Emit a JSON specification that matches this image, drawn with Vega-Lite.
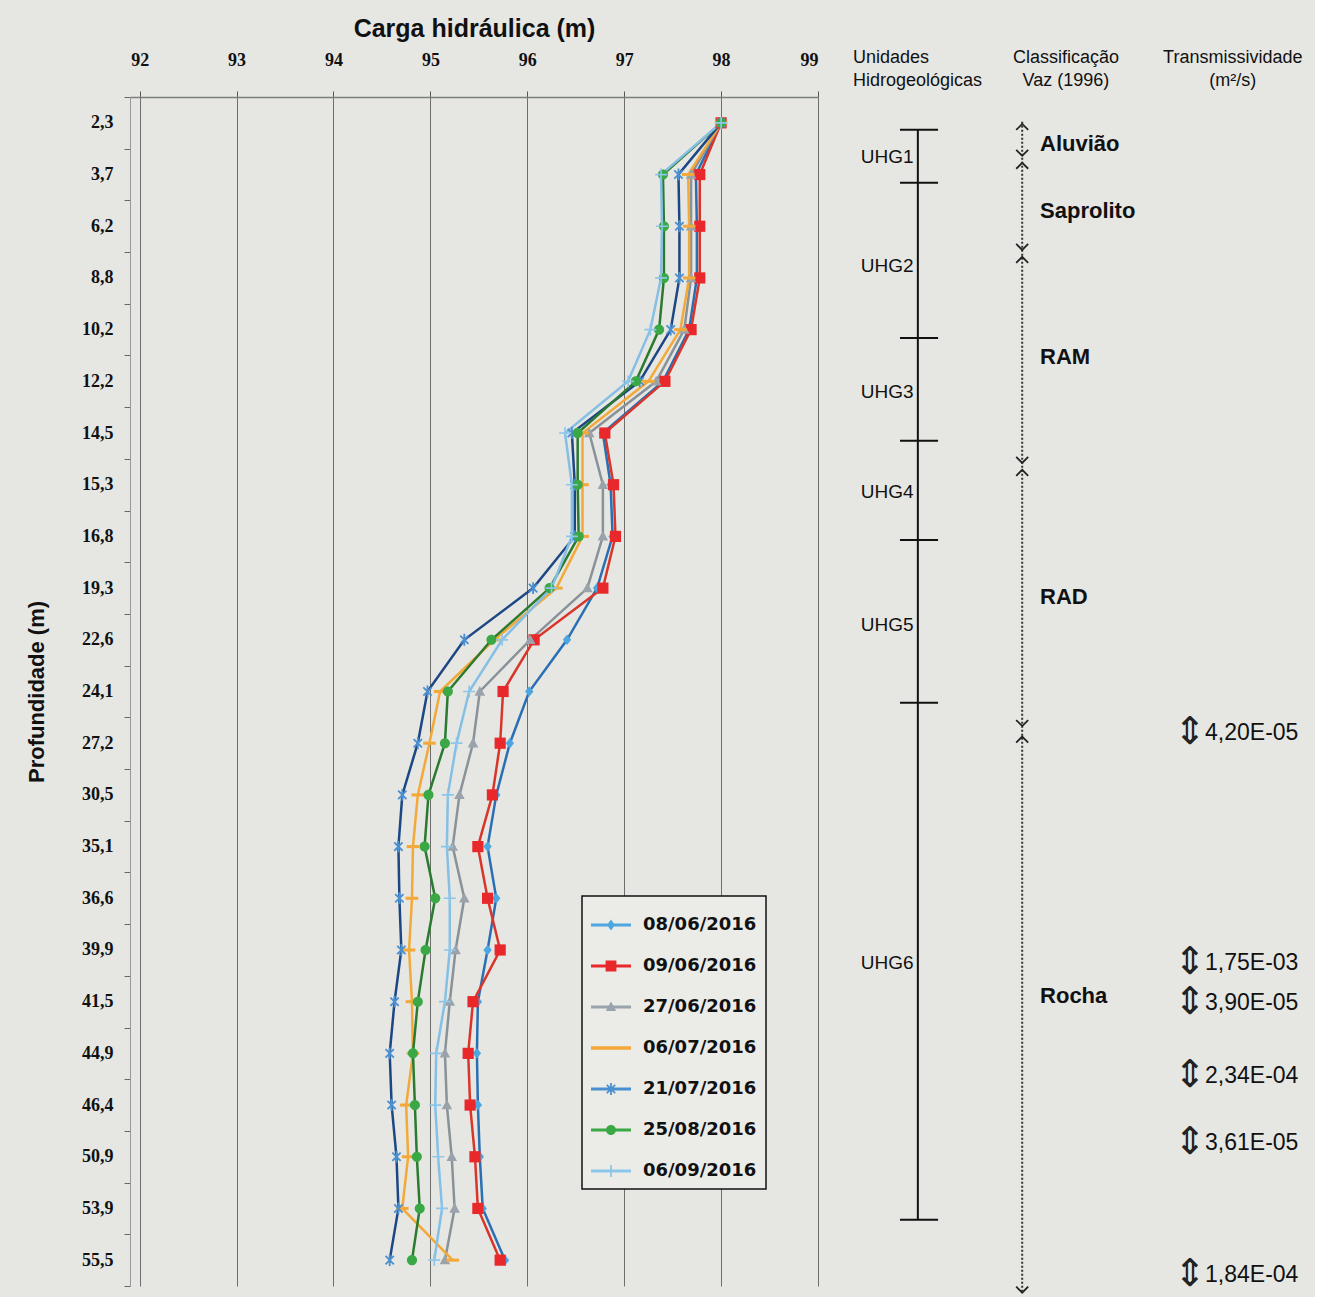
{
  "$schema": "https://vega.github.io/schema/vega-lite/v6.json",
  "background": "#e6e7e3",
  "padding": {"left": 25, "top": 16, "right": 0, "bottom": 0},
  "bounds": "flush",
  "spacing": 27,
  "config": {"view": {"stroke": null}, "font": "Liberation Sans"},
  "datasets": {
    "cargas": [
      {"prof": "2,3", "dep": 2.3, "08/06/2016": 98.0, "09/06/2016": 98.0, "27/06/2016": 98.0, "06/07/2016": 98.0, "21/07/2016": 98.0, "25/08/2016": 98.0, "06/09/2016": 98.0},
      {"prof": "3,7", "dep": 3.7, "08/06/2016": 97.74, "09/06/2016": 97.78, "27/06/2016": 97.69, "06/07/2016": 97.66, "21/07/2016": 97.56, "25/08/2016": 97.40, "06/09/2016": 97.38},
      {"prof": "6,2", "dep": 6.2, "08/06/2016": 97.75, "09/06/2016": 97.78, "27/06/2016": 97.69, "06/07/2016": 97.67, "21/07/2016": 97.57, "25/08/2016": 97.41, "06/09/2016": 97.39},
      {"prof": "8,8", "dep": 8.8, "08/06/2016": 97.75, "09/06/2016": 97.78, "27/06/2016": 97.69, "06/07/2016": 97.67, "21/07/2016": 97.57, "25/08/2016": 97.41, "06/09/2016": 97.38},
      {"prof": "10,2", "dep": 10.2, "08/06/2016": 97.67, "09/06/2016": 97.69, "27/06/2016": 97.62, "06/07/2016": 97.58, "21/07/2016": 97.48, "25/08/2016": 97.36, "06/09/2016": 97.27},
      {"prof": "12,2", "dep": 12.2, "08/06/2016": 97.40, "09/06/2016": 97.42, "27/06/2016": 97.33, "06/07/2016": 97.25, "21/07/2016": 97.16, "25/08/2016": 97.12, "06/09/2016": 97.04},
      {"prof": "14,5", "dep": 14.5, "08/06/2016": 96.78, "09/06/2016": 96.80, "27/06/2016": 96.64, "06/07/2016": 96.57, "21/07/2016": 96.46, "25/08/2016": 96.52, "06/09/2016": 96.39},
      {"prof": "15,3", "dep": 15.3, "08/06/2016": 96.86, "09/06/2016": 96.89, "27/06/2016": 96.78, "06/07/2016": 96.57, "21/07/2016": 96.49, "25/08/2016": 96.52, "06/09/2016": 96.46},
      {"prof": "16,8", "dep": 16.8, "08/06/2016": 96.88, "09/06/2016": 96.91, "27/06/2016": 96.78, "06/07/2016": 96.57, "21/07/2016": 96.49, "25/08/2016": 96.53, "06/09/2016": 96.46},
      {"prof": "19,3", "dep": 19.3, "08/06/2016": 96.72, "09/06/2016": 96.78, "27/06/2016": 96.62, "06/07/2016": 96.30, "21/07/2016": 96.06, "25/08/2016": 96.23, "06/09/2016": 96.25},
      {"prof": "22,6", "dep": 22.6, "08/06/2016": 96.41, "09/06/2016": 96.07, "27/06/2016": 96.03, "06/07/2016": 95.66, "21/07/2016": 95.35, "25/08/2016": 95.63, "06/09/2016": 95.74},
      {"prof": "24,1", "dep": 24.1, "08/06/2016": 96.02, "09/06/2016": 95.75, "27/06/2016": 95.51, "06/07/2016": 95.10, "21/07/2016": 94.97, "25/08/2016": 95.18, "06/09/2016": 95.40},
      {"prof": "27,2", "dep": 27.2, "08/06/2016": 95.82, "09/06/2016": 95.72, "27/06/2016": 95.44, "06/07/2016": 94.99, "21/07/2016": 94.87, "25/08/2016": 95.15, "06/09/2016": 95.27},
      {"prof": "30,5", "dep": 30.5, "08/06/2016": 95.68, "09/06/2016": 95.64, "27/06/2016": 95.30, "06/07/2016": 94.87, "21/07/2016": 94.71, "25/08/2016": 94.98, "06/09/2016": 95.18},
      {"prof": "35,1", "dep": 35.1, "08/06/2016": 95.59, "09/06/2016": 95.49, "27/06/2016": 95.23, "06/07/2016": 94.82, "21/07/2016": 94.67, "25/08/2016": 94.94, "06/09/2016": 95.17},
      {"prof": "36,6", "dep": 36.6, "08/06/2016": 95.68, "09/06/2016": 95.59, "27/06/2016": 95.35, "06/07/2016": 94.81, "21/07/2016": 94.68, "25/08/2016": 95.05, "06/09/2016": 95.20},
      {"prof": "39,9", "dep": 39.9, "08/06/2016": 95.59, "09/06/2016": 95.72, "27/06/2016": 95.26, "06/07/2016": 94.78, "21/07/2016": 94.70, "25/08/2016": 94.95, "06/09/2016": 95.20},
      {"prof": "41,5", "dep": 41.5, "08/06/2016": 95.49, "09/06/2016": 95.44, "27/06/2016": 95.20, "06/07/2016": 94.81, "21/07/2016": 94.63, "25/08/2016": 94.87, "06/09/2016": 95.15},
      {"prof": "44,9", "dep": 44.9, "08/06/2016": 95.48, "09/06/2016": 95.39, "27/06/2016": 95.15, "06/07/2016": 94.82, "21/07/2016": 94.58, "25/08/2016": 94.82, "06/09/2016": 95.06},
      {"prof": "46,4", "dep": 46.4, "08/06/2016": 95.49, "09/06/2016": 95.41, "27/06/2016": 95.17, "06/07/2016": 94.75, "21/07/2016": 94.60, "25/08/2016": 94.84, "06/09/2016": 95.05},
      {"prof": "50,9", "dep": 50.9, "08/06/2016": 95.51, "09/06/2016": 95.46, "27/06/2016": 95.22, "06/07/2016": 94.77, "21/07/2016": 94.65, "25/08/2016": 94.86, "06/09/2016": 95.08},
      {"prof": "53,9", "dep": 53.9, "08/06/2016": 95.54, "09/06/2016": 95.49, "27/06/2016": 95.25, "06/07/2016": 94.71, "21/07/2016": 94.67, "25/08/2016": 94.89, "06/09/2016": 95.12},
      {"prof": "55,5", "dep": 55.5, "08/06/2016": 95.77, "09/06/2016": 95.72, "27/06/2016": 95.15, "06/07/2016": 95.23, "21/07/2016": 94.58, "25/08/2016": 94.81, "06/09/2016": 95.04}
    ],
    "uhgLimites": [{"y": 0.135}, {"y": 1.16}, {"y": 4.16}, {"y": 6.15}, {"y": 8.07}, {"y": 11.22}, {"y": 21.22}],
    "uhgEixo": [{"a": 0.135, "b": 21.22}],
    "uhgRotulos": [
      {"t": "UHG1", "y": 0.66}, {"t": "UHG2", "y": 2.77}, {"t": "UHG3", "y": 5.2},
      {"t": "UHG4", "y": 7.14}, {"t": "UHG5", "y": 9.71}, {"t": "UHG6", "y": 16.25}
    ],
    "vazEixo": [{"a": -0.02, "b": 22.6}],
    "vazSetas": [
      {"y": 0.08, "dir": "cima"}, {"y": 0.58, "dir": "baixo"}, {"y": 0.83, "dir": "cima"},
      {"y": 2.4, "dir": "baixo"}, {"y": 2.65, "dir": "cima"}, {"y": 6.52, "dir": "baixo"},
      {"y": 6.77, "dir": "cima"}, {"y": 11.61, "dir": "baixo"}, {"y": 11.93, "dir": "cima"},
      {"y": 22.57, "dir": "baixo"}
    ],
    "vazRotulos": [
      {"t": "Aluvião", "y": 0.41}, {"t": "Saprolito", "y": 1.7}, {"t": "RAM", "y": 4.53},
      {"t": "RAD", "y": 9.17}, {"t": "Rocha", "y": 16.89}
    ],
    "transm": [
      {"t": "4,20E-05", "y": 11.8}, {"t": "1,75E-03", "y": 16.25}, {"t": "3,90E-05", "y": 17.02},
      {"t": "2,34E-04", "y": 18.43}, {"t": "3,61E-05", "y": 19.73}, {"t": "1,84E-04", "y": 22.28}
    ],
    "cab1": [{"t": "Unidades", "y": -1.26}, {"t": "Hidrogeológicas", "y": -0.81}],
    "cab2": [{"t": "Classificação", "y": -1.26}, {"t": "Vaz (1996)", "y": -0.81}],
    "cab3": [{"t": "Transmissividade", "y": -1.26}, {"t": "(m²/s)", "y": -0.81}]
  },
  "hconcat": [
    {
      "width": 688,
      "height": 1189,
      "data": {"name": "cargas"},
      "transform": [
        {"fold": ["08/06/2016", "09/06/2016", "27/06/2016", "06/07/2016", "21/07/2016", "25/08/2016", "06/09/2016"], "as": ["serie", "carga"]}
      ],
      "encoding": {
        "x": {
          "field": "carga", "type": "quantitative",
          "scale": {"domain": [91.9, 99], "nice": false, "zero": false},
          "axis": {
            "orient": "top", "values": [92, 93, 94, 95, 96, 97, 98, 99], "format": "d",
            "title": "Carga hidráulica (m)", "titleFont": "Liberation Sans", "titleFontSize": 25,
            "titleFontWeight": "bold", "titleColor": "#111", "titlePadding": 10,
            "labelFont": "Liberation Serif", "labelFontWeight": "bold", "labelFontSize": 18,
            "labelColor": "#111", "labelPadding": 22,
            "tickSize": 6, "tickColor": "#555", "domainColor": "#7a7f7a", "domainWidth": 1.5,
            "grid": true, "gridColor": "#6e6e6e", "gridWidth": 1
          }
        },
        "y": {
          "field": "prof", "type": "ordinal",
          "sort": ["2,3", "3,7", "6,2", "8,8", "10,2", "12,2", "14,5", "15,3", "16,8", "19,3", "22,6", "24,1", "27,2", "30,5", "35,1", "36,6", "39,9", "41,5", "44,9", "46,4", "50,9", "53,9", "55,5"],
          "scale": {"type": "band", "paddingInner": 0, "paddingOuter": 0},
          "axis": {
            "title": "Profundidade (m)", "titleFont": "Liberation Sans", "titleFontSize": 22,
            "titleFontWeight": "bold", "titleColor": "#111", "titlePadding": 33,
            "labelFont": "Liberation Serif", "labelFontWeight": "bold", "labelFontSize": 18,
            "labelColor": "#111", "labelPadding": 11,
            "tickBand": "extent", "tickSize": 6, "tickColor": "#666", "domainColor": "#999", "grid": false
          }
        },
        "order": {"field": "dep", "type": "quantitative"}
      },
      "layer": [
        {
          "mark": {"type": "line", "strokeWidth": 2.5},
          "encoding": {
            "color": {
              "field": "serie", "type": "nominal",
              "scale": {
                "domain": ["08/06/2016", "09/06/2016", "27/06/2016", "06/07/2016", "21/07/2016", "25/08/2016", "06/09/2016"],
                "range": ["#2a6fb3", "#d9362b", "#8a9299", "#f3a93a", "#1d4784", "#2b7a30", "#86bfe4"]
              },
              "legend": {
                "title": null, "orient": "none", "legendX": 452, "legendY": 799,
                "padding": 9, "rowPadding": 12, "symbolSize": 1600, "labelOffset": 12,
                "labelFont": "DejaVu Sans", "labelFontSize": 18, "labelFontWeight": "bold", "labelColor": "#111",
                "strokeColor": "#111", "fillColor": "#ebece8",
                "encode": {
                  "legend": {"update": {"strokeWidth": {"value": 1.5}}},
                  "symbols": {
                    "update": {
                      "shape": {"signal": "datum.value==='08/06/2016'?'M-1,-0.07L1,-0.07L1,0.07L-1,0.07ZM0,-0.27L0.2,0L0,0.27L-0.2,0Z':datum.value==='09/06/2016'?'M-1,-0.07L1,-0.07L1,0.07L-1,0.07ZM-0.27,-0.27L0.27,-0.27L0.27,0.27L-0.27,0.27Z':datum.value==='27/06/2016'?'M-1,-0.07L1,-0.07L1,0.07L-1,0.07ZM0,-0.28L0.26,0.2L-0.26,0.2Z':datum.value==='06/07/2016'?'M-1,-0.09L1,-0.09L1,0.09L-1,0.09Z':datum.value==='21/07/2016'?'M-1,-0.07L1,-0.07L1,0.07L-1,0.07ZM-0.045,-0.3L0.045,-0.3L0.045,0.3L-0.045,0.3ZM-0.177,-0.24L0.24,0.177L0.177,0.24L-0.24,-0.177ZM-0.24,0.177L0.177,-0.24L0.24,-0.177L-0.177,0.24Z':datum.value==='25/08/2016'?'M-1,-0.07L1,-0.07L1,0.07L-1,0.07ZM0.25,0A0.25,0.25,0,1,1,-0.25,0A0.25,0.25,0,1,1,0.25,0Z':'M-1,-0.07L1,-0.07L1,0.07L-1,0.07ZM-0.045,-0.3L0.045,-0.3L0.045,0.3L-0.045,0.3ZM-0.3,-0.045L0.3,-0.045L0.3,0.045L-0.3,0.045Z'"},
                      "fill": {"signal": "datum.value==='08/06/2016'?'#2a6fb3':datum.value==='09/06/2016'?'#e0302a':datum.value==='27/06/2016'?'#8a9299':datum.value==='06/07/2016'?'#f3a93a':datum.value==='21/07/2016'?'#1d4784':datum.value==='25/08/2016'?'#2b7a30':'#86bfe4'"},
                      "stroke": {"value": "transparent"},
                      "strokeWidth": {"value": 0},
                      "opacity": {"value": 1},
                      "fillOpacity": {"value": 1}
                    }
                  }
                }
              }
            }
          }
        },
        {
          "mark": {"type": "point", "filled": true, "size": 196, "opacity": 1, "strokeWidth": 0},
          "encoding": {
            "fill": {
              "field": "serie", "type": "nominal",
              "scale": {
                "domain": ["08/06/2016", "09/06/2016", "27/06/2016", "06/07/2016", "21/07/2016", "25/08/2016", "06/09/2016"],
                "range": ["#4da6e0", "#e8282a", "#9aa3ab", "#f3a93a", "#4a8fd0", "#3aa845", "#8cc6ea"]
              },
              "legend": null
            },
            "shape": {
              "field": "serie", "type": "nominal",
              "scale": {
                "domain": ["08/06/2016", "09/06/2016", "27/06/2016", "06/07/2016", "21/07/2016", "25/08/2016", "06/09/2016", "cima", "baixo"],
                "range": [
                  "M0,-0.75L0.6,0L0,0.75L-0.6,0Z",
                  "M-0.8,-0.8L0.8,-0.8L0.8,0.8L-0.8,0.8Z",
                  "M0,-0.8L0.75,0.6L-0.75,0.6Z",
                  "M-0.9,-0.22L0.9,-0.22L0.9,0.22L-0.9,0.22Z",
                  "M-0.13,-0.85L0.13,-0.85L0.13,0.85L-0.13,0.85ZM-0.505,-0.685L0.685,0.505L0.505,0.685L-0.685,-0.505ZM-0.685,0.505L0.505,-0.685L0.685,-0.505L-0.505,0.685Z",
                  "M0.72,0A0.72,0.72,0,1,1,-0.72,0A0.72,0.72,0,1,1,0.72,0Z",
                  "M-0.12,-0.85L0.12,-0.85L0.12,0.85L-0.12,0.85ZM-0.85,-0.12L0.85,-0.12L0.85,0.12L-0.85,0.12Z",
                  "M-1,0.5L0,-0.5L1,0.5",
                  "M-1,-0.5L0,0.5L1,-0.5"
                ]
              },
              "legend": null
            }
          }
        }
      ]
    },
    {
      "width": 470,
      "height": 1189,
      "layer": [
        {
          "data": {"name": "uhgEixo"},
          "mark": {"type": "rule", "color": "#111", "strokeWidth": 2},
          "encoding": {
            "x": {"datum": 15.5, "type": "quantitative", "scale": {"domain": [0, 100]}, "axis": null},
            "y": {"field": "a", "type": "quantitative", "scale": {"domain": [-0.5, 22.5], "reverse": true, "nice": false, "zero": false}, "axis": null},
            "y2": {"field": "b"}
          }
        },
        {
          "data": {"name": "uhgLimites"},
          "mark": {"type": "rule", "color": "#111", "strokeWidth": 2},
          "encoding": {
            "x": {"datum": 11.7, "type": "quantitative", "scale": {"domain": [0, 100]}, "axis": null},
            "x2": {"datum": 19.8},
            "y": {"field": "y", "type": "quantitative", "scale": {"domain": [-0.5, 22.5], "reverse": true, "nice": false, "zero": false}, "axis": null}
          }
        },
        {
          "data": {"name": "uhgRotulos"},
          "mark": {"type": "text", "align": "right", "baseline": "middle", "fontSize": 19, "font": "Liberation Sans", "color": "#111"},
          "encoding": {
            "x": {"datum": 14.6, "type": "quantitative", "scale": {"domain": [0, 100]}, "axis": null},
            "y": {"field": "y", "type": "quantitative", "scale": {"domain": [-0.5, 22.5], "reverse": true, "nice": false, "zero": false}, "axis": null},
            "text": {"field": "t"}
          }
        },
        {
          "data": {"name": "vazEixo"},
          "mark": {"type": "rule", "color": "#333", "strokeWidth": 2, "strokeDash": [2, 2]},
          "encoding": {
            "x": {"datum": 37.7, "type": "quantitative", "scale": {"domain": [0, 100]}, "axis": null},
            "y": {"field": "a", "type": "quantitative", "scale": {"domain": [-0.5, 22.5], "reverse": true, "nice": false, "zero": false}, "axis": null},
            "y2": {"field": "b"}
          }
        },
        {
          "data": {"name": "vazSetas"},
          "mark": {"type": "point", "filled": false, "size": 144, "opacity": 1, "strokeWidth": 1.8, "color": "#222"},
          "encoding": {
            "x": {"datum": 37.7, "type": "quantitative", "scale": {"domain": [0, 100]}, "axis": null},
            "y": {"field": "y", "type": "quantitative", "scale": {"domain": [-0.5, 22.5], "reverse": true, "nice": false, "zero": false}, "axis": null},
            "shape": {"field": "dir", "type": "nominal", "legend": null}
          }
        },
        {
          "data": {"name": "vazRotulos"},
          "mark": {"type": "text", "align": "left", "baseline": "middle", "fontSize": 22, "fontWeight": "bold", "font": "Liberation Sans", "color": "#111"},
          "encoding": {
            "x": {"datum": 41.5, "type": "quantitative", "scale": {"domain": [0, 100]}, "axis": null},
            "y": {"field": "y", "type": "quantitative", "scale": {"domain": [-0.5, 22.5], "reverse": true, "nice": false, "zero": false}, "axis": null},
            "text": {"field": "t"}
          }
        },
        {
          "data": {"name": "transm"},
          "mark": {"type": "text", "align": "center", "baseline": "middle", "fontSize": 38, "font": "DejaVu Sans", "color": "#222"},
          "encoding": {
            "x": {"datum": 73.4, "type": "quantitative", "scale": {"domain": [0, 100]}, "axis": null},
            "y": {"field": "y", "type": "quantitative", "scale": {"domain": [-0.5, 22.5], "reverse": true, "nice": false, "zero": false}, "axis": null},
            "text": {"value": "⇕"}
          }
        },
        {
          "data": {"name": "transm"},
          "mark": {"type": "text", "align": "left", "baseline": "middle", "fontSize": 23, "font": "Liberation Sans", "color": "#111"},
          "encoding": {
            "x": {"datum": 76.6, "type": "quantitative", "scale": {"domain": [0, 100]}, "axis": null},
            "y": {"field": "y", "type": "quantitative", "scale": {"domain": [-0.5, 22.5], "reverse": true, "nice": false, "zero": false}, "axis": null},
            "text": {"field": "t"}
          }
        },
        {
          "data": {"name": "cab1"},
          "mark": {"type": "text", "align": "left", "baseline": "middle", "fontSize": 18, "font": "Liberation Sans", "color": "#111"},
          "encoding": {
            "x": {"datum": 1.7, "type": "quantitative", "scale": {"domain": [0, 100]}, "axis": null},
            "y": {"field": "y", "type": "quantitative", "scale": {"domain": [-0.5, 22.5], "reverse": true, "nice": false, "zero": false}, "axis": null},
            "text": {"field": "t"}
          }
        },
        {
          "data": {"name": "cab2"},
          "mark": {"type": "text", "align": "center", "baseline": "middle", "fontSize": 18, "font": "Liberation Sans", "color": "#111"},
          "encoding": {
            "x": {"datum": 47.0, "type": "quantitative", "scale": {"domain": [0, 100]}, "axis": null},
            "y": {"field": "y", "type": "quantitative", "scale": {"domain": [-0.5, 22.5], "reverse": true, "nice": false, "zero": false}, "axis": null},
            "text": {"field": "t"}
          }
        },
        {
          "data": {"name": "cab3"},
          "mark": {"type": "text", "align": "center", "baseline": "middle", "fontSize": 18, "font": "Liberation Sans", "color": "#111"},
          "encoding": {
            "x": {"datum": 82.5, "type": "quantitative", "scale": {"domain": [0, 100]}, "axis": null},
            "y": {"field": "y", "type": "quantitative", "scale": {"domain": [-0.5, 22.5], "reverse": true, "nice": false, "zero": false}, "axis": null},
            "text": {"field": "t"}
          }
        }
      ]
    }
  ]
}
